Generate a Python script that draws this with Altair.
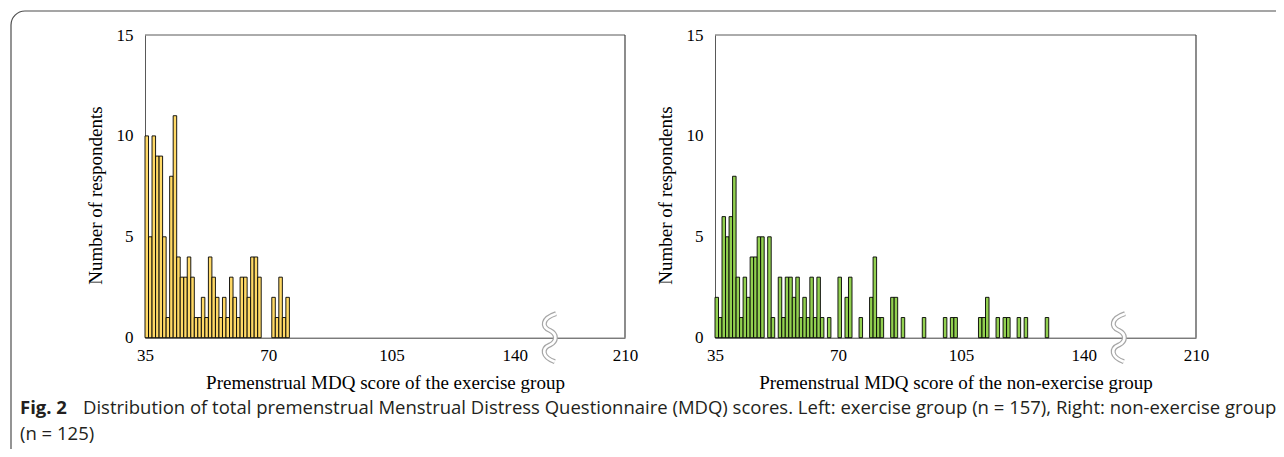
import altair as alt
import pandas as pd

# ---- data ----
left_scores = list(range(35, 68)) + [71, 72, 73, 74, 75]
left_counts = [10, 5, 10, 9, 9, 5, 1, 8, 11, 4, 3, 3, 4, 3, 1, 1, 2, 1, 4, 3, 2, 1, 2, 1, 3, 2, 1,
               3, 3, 2, 4, 4, 3, 2, 1, 3, 1, 2]
right_scores = [35, 36, 37, 38, 39, 40, 41, 42, 43, 44, 45, 46, 47, 48, 50, 51, 53, 54, 55, 56, 57,
                58, 59, 60, 61, 62, 63, 64, 65, 67, 70, 72, 73, 76, 79, 80, 81, 82, 85, 86, 88, 94,
                100, 102, 103, 110, 111, 112, 115, 117, 118, 121, 123, 129]
right_counts = [2, 1, 6, 5, 6, 8, 3, 1, 3, 2, 4, 4, 5, 5, 5, 1, 3, 1, 3, 3, 2, 3, 1, 2, 1, 3, 1, 3,
                1, 1, 3, 2, 3, 1, 2, 4, 1, 1, 2, 2, 1, 1, 1, 1, 1, 1, 1, 2, 1, 1, 1, 1, 1, 1]
x_ticks = [35, 70, 105, 140, 210]
y_ticks = [0, 5, 10, 15]
x_domain = [35, 150, 210]   # axis is broken at ~150
y_domain = [0, 15]
left_title = "Premenstrual MDQ score of the exercise group"
right_title = "Premenstrual MDQ score of the non-exercise group"
y_title = "Number of respondents"
caption_bold = "Fig. 2"
caption_rest = ("Distribution of total premenstrual Menstrual Distress Questionnaire (MDQ) scores. "
                "Left: exercise group (n = 157), Right: non-exercise group")
caption_line2 = "(n = 125)"

W, H = 1268, 441
BASE = 329.7
TOP = 27
SERIF = "Liberation Serif"
SANS = "Open Sans"
FRAME = "#595959"
CAP_SIZE = 18.5
BREAK_PATH = ("M0.25,-1 C-0.35,-0.8 -0.35,-0.45 0,-0.3 C0.3,-0.15 0.3,0.15 0,0.3 "
              "C-0.35,0.45 -0.35,0.8 0.2,1")

one = pd.DataFrame({"k": [0]})


def panel(scores, counts, color, xtitle, rng):
    df = pd.DataFrame({"score": scores, "count": counts})
    df["score_end"] = df["score"] + 1
    xs = alt.Scale(domain=x_domain, range=rng, nice=False, zero=False)
    ys = alt.Scale(domain=y_domain, range=[BASE, TOP], nice=False, zero=False)
    xaxis = alt.Axis(values=x_ticks, title=xtitle, orient="bottom", offset=-(H - BASE),
                     ticks=False, grid=False, labelPadding=10, titlePadding=10,
                     domainColor="#404040", labelFlush=False, labelOverlap=False)
    yaxis = alt.Axis(values=y_ticks, title=y_title, orient="left", offset=-rng[0],
                     ticks=False, grid=False, labelPadding=12, titlePadding=11,
                     titleY=187, domainColor=FRAME)
    bars = alt.Chart(df).mark_bar(color=color, stroke="black", strokeWidth=0.9).encode(
        x=alt.X("score:Q", scale=xs, axis=xaxis),
        x2="score_end:Q",
        y=alt.Y("count:Q", scale=ys, axis=yaxis, stack=None),
        y2=alt.datum(0),
    )
    top = alt.Chart(one).mark_rule(color=FRAME, strokeWidth=1).encode(
        x=alt.datum(35), x2=alt.datum(210), y=alt.datum(15))
    right = alt.Chart(one).mark_rule(color="#404040", strokeWidth=1.2).encode(
        x=alt.datum(210), y=alt.datum(0), y2=alt.datum(15))
    brk1 = alt.Chart(one).mark_point(shape=BREAK_PATH, size=2304, filled=False,
                                     stroke="#a6a6a6", strokeWidth=5, opacity=1).encode(
        x=alt.datum(150), y=alt.datum(0))
    brk2 = alt.Chart(one).mark_point(shape=BREAK_PATH, size=2304, filled=False,
                                     stroke="white", strokeWidth=2.6, opacity=1).encode(
        x=alt.datum(150), y=alt.datum(0))
    return alt.layer(bars, top, right, brk1, brk2)


left = panel(left_scores, left_counts, "#FFD966", left_title, [137, 542, 617])
right = panel(right_scores, right_counts, "#92D050", right_title, [707, 1111, 1188])

border = alt.Chart(one).mark_rect(cornerRadius=14, fillOpacity=0, stroke="#4d4d4d",
                                  strokeWidth=1.2).encode(
    x=alt.value(3), y=alt.value(3), x2=alt.value(1500), y2=alt.value(700))

cap1 = alt.Chart(one).mark_text(text=caption_bold, font=SANS, fontWeight="bold", fontSize=CAP_SIZE,
                                align="left", baseline="middle", color="#231f20").encode(
    x=alt.value(12), y=alt.value(400))
cap2 = alt.Chart(one).mark_text(text=caption_rest, font=SANS, fontSize=CAP_SIZE,
                                align="left", baseline="middle", color="#231f20").encode(
    x=alt.value(75), y=alt.value(400))
cap3 = alt.Chart(one).mark_text(text=caption_line2, font=SANS, fontSize=CAP_SIZE,
                                align="left", baseline="middle", color="#231f20").encode(
    x=alt.value(12), y=alt.value(426))

chart = alt.layer(border, left, right, cap1, cap2, cap3).resolve_scale(
    x="independent", y="independent"
).properties(
    width=W, height=H, padding=0, autosize=alt.AutoSizeParams(type="none")
).configure_view(stroke=None).configure_axis(
    labelFont=SERIF, labelFontSize=17, labelColor="black",
    titleFont=SERIF, titleFontSize=19, titleFontWeight="normal", titleColor="black",
)

chart.save("out.html", embed_options={"renderer": "svg", "actions": False})
